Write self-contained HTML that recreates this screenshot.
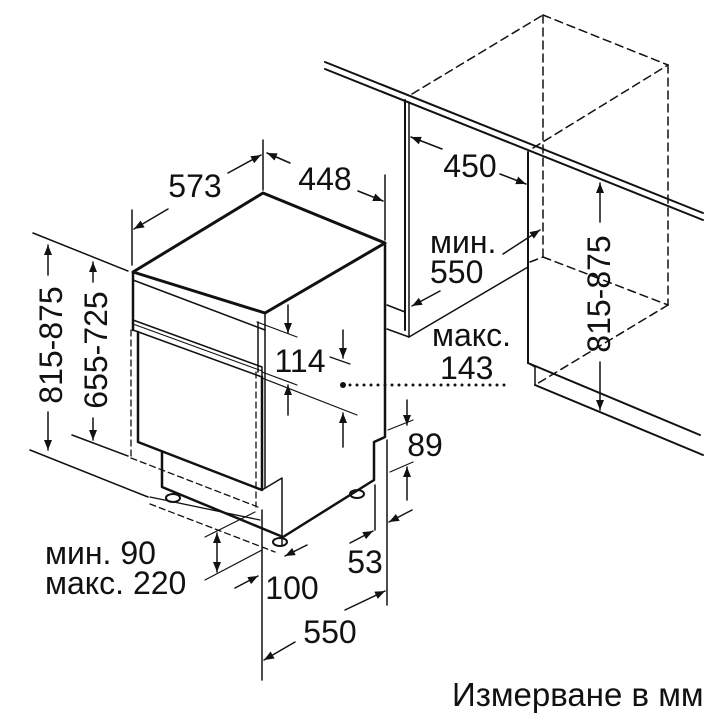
<!DOCTYPE html>
<html><head><meta charset="utf-8"><style>
html,body{margin:0;padding:0;background:#fff}
svg{display:block}
text{font-family:"Liberation Sans",sans-serif;fill:#111}
</style></head><body>
<svg width="720" height="720" viewBox="0 0 720 720" xmlns="http://www.w3.org/2000/svg">
<defs>
<marker id="a" viewBox="0 0 10 10" refX="10" refY="5" markerWidth="10" markerHeight="10" orient="auto-start-reverse" markerUnits="userSpaceOnUse">
<path d="M0,1 L10,5 L0,9 z" fill="#111"/></marker>
</defs>
<g stroke="#111" fill="none" stroke-linecap="round" stroke-linejoin="round">
<line x1="325" y1="62" x2="703" y2="213" stroke-width="2"/>
<line x1="325" y1="69" x2="703" y2="220" stroke-width="2"/>
<line x1="405" y1="100" x2="405" y2="330" stroke-width="2"/>
<line x1="409" y1="102" x2="409" y2="337" stroke-width="1.5"/>
<line x1="387" y1="305" x2="405" y2="312" stroke-width="1.5"/>
<line x1="387" y1="329" x2="409" y2="337" stroke-width="1.5"/>
<line x1="409" y1="337" x2="528" y2="267" stroke-width="1.5"/>
<line x1="528" y1="152" x2="528" y2="363" stroke-width="2"/>
<path d="M528,363 L535,367 L535,385" stroke-width="1.5"/>
<line x1="528" y1="363" x2="700" y2="435" stroke-width="2"/>
<line x1="535" y1="385" x2="703" y2="455" stroke-width="2"/>
<g stroke-dasharray="8,5" stroke-width="1.5">
<line x1="412" y1="94" x2="543" y2="15"/>
<line x1="543" y1="15" x2="668" y2="65"/>
<line x1="543" y1="15" x2="543" y2="257"/>
<line x1="668" y1="65" x2="668" y2="305"/>
<line x1="533" y1="148" x2="668" y2="65"/>
<line x1="530" y1="262" x2="543" y2="257"/>
<line x1="543" y1="257" x2="668" y2="305"/>
<line x1="668" y1="305" x2="535" y2="385"/>
</g>
<path d="M133,272 L263,193 L385,243 L265,313 Z" stroke-width="3"/>
<line x1="133" y1="272" x2="133" y2="330" stroke-width="2.5"/>
<line x1="133" y1="280" x2="265" y2="330" stroke-width="1.5"/>
<line x1="265" y1="313" x2="265" y2="488" stroke-width="1.5"/>
<line x1="258" y1="322" x2="258" y2="372" stroke-width="1.5"/>
<path d="M133,320 L262,367 L262,377 L133,330 Z" stroke-width="1.5"/>
<line x1="133" y1="324" x2="262" y2="371" stroke-width="1"/>
<path d="M138,332 L138,442 L262,490 L262,377" stroke-width="2.5"/>
<path d="M385,243 L385,437 L374,442 L374,480 L283,537 L162,487 L162,452" stroke-width="2.5"/>
<path d="M262,490 L282,478 L282,545" stroke-width="1.5"/>
<ellipse cx="173" cy="498" rx="7" ry="4" stroke-width="2"/>
<ellipse cx="280" cy="542" rx="7" ry="4" stroke-width="2"/>
<ellipse cx="357" cy="494" rx="7" ry="4" stroke-width="2"/>
<g stroke-dasharray="6,4" stroke-width="1.3">
<line x1="131" y1="330" x2="131" y2="458"/>
<line x1="131" y1="458" x2="258" y2="507"/>
<line x1="256" y1="372" x2="256" y2="507"/>
<line x1="150" y1="504" x2="275" y2="552"/>
<line x1="150" y1="497" x2="260" y2="520" stroke-dasharray="0"/>
</g>
<line x1="33" y1="233" x2="128" y2="271" stroke-width="1.5"/>
<line x1="30" y1="450" x2="148" y2="497" stroke-width="1.5"/>
<line x1="72" y1="435" x2="128" y2="456" stroke-width="1.5"/>
<line x1="48" y1="275" x2="48" y2="245" marker-end="url(#a)" stroke-width="1.5"/>
<line x1="48" y1="412" x2="48" y2="450" marker-end="url(#a)" stroke-width="1.5"/>
<line x1="93" y1="282" x2="93" y2="262" marker-end="url(#a)" stroke-width="1.5"/>
<line x1="93" y1="418" x2="93" y2="440" marker-end="url(#a)" stroke-width="1.5"/>
<line x1="132" y1="210" x2="132" y2="265" stroke-width="1.5"/>
<line x1="263" y1="140" x2="263" y2="190" stroke-width="1.5"/>
<line x1="385" y1="175" x2="385" y2="240" stroke-width="1.5"/>
<line x1="168" y1="209" x2="134" y2="229" marker-end="url(#a)" stroke-width="1.5"/>
<line x1="228" y1="173" x2="261" y2="155" marker-end="url(#a)" stroke-width="1.5"/>
<line x1="290" y1="163" x2="267" y2="153" marker-end="url(#a)" stroke-width="1.5"/>
<line x1="358" y1="191" x2="383" y2="201" marker-end="url(#a)" stroke-width="1.5"/>
<line x1="257" y1="322" x2="297" y2="337" stroke-width="1.2"/>
<line x1="262" y1="372" x2="297" y2="385" stroke-width="1.2"/>
<line x1="262" y1="378" x2="357" y2="415" stroke-width="1.2"/>
<line x1="330" y1="357" x2="350" y2="364" stroke-width="1.2"/>
<line x1="288" y1="305" x2="288" y2="333" marker-end="url(#a)" stroke-width="1.5"/>
<line x1="343" y1="330" x2="343" y2="358" marker-end="url(#a)" stroke-width="1.5"/>
<line x1="288" y1="415" x2="288" y2="385" marker-end="url(#a)" stroke-width="1.5"/>
<line x1="343" y1="447" x2="343" y2="413" marker-end="url(#a)" stroke-width="1.5"/>
<line x1="350" y1="385" x2="508" y2="385" stroke-width="3" stroke-dasharray="0,7"/>
<circle cx="343" cy="385" r="3" fill="#111" stroke="none"/>
<line x1="387" y1="440" x2="387" y2="605" stroke-width="1.5"/>
<line x1="375" y1="485" x2="375" y2="530" stroke-width="1.5"/>
<line x1="388" y1="430" x2="413" y2="420" stroke-width="1.2"/>
<line x1="390" y1="472" x2="413" y2="462" stroke-width="1.2"/>
<line x1="407" y1="400" x2="407" y2="425" marker-end="url(#a)" stroke-width="1.5"/>
<line x1="407" y1="500" x2="407" y2="467" marker-end="url(#a)" stroke-width="1.5"/>
<line x1="412" y1="510" x2="389" y2="522" marker-end="url(#a)" stroke-width="1.5"/>
<line x1="350" y1="543" x2="373" y2="531" marker-end="url(#a)" stroke-width="1.5"/>
<line x1="345" y1="610" x2="385" y2="591" marker-end="url(#a)" stroke-width="1.5"/>
<line x1="295" y1="642" x2="264" y2="660" marker-end="url(#a)" stroke-width="1.5"/>
<line x1="262" y1="510" x2="262" y2="680" stroke-width="1.5"/>
<line x1="307" y1="545" x2="285" y2="556" marker-end="url(#a)" stroke-width="1.5"/>
<line x1="235" y1="588" x2="258" y2="576" marker-end="url(#a)" stroke-width="1.5"/>
<line x1="205" y1="537" x2="255" y2="512" stroke-width="1.2"/>
<line x1="205" y1="580" x2="262" y2="550" stroke-width="1.2"/>
<line x1="217" y1="533" x2="217" y2="572" marker-start="url(#a)" marker-end="url(#a)" stroke-width="1.5"/>
<line x1="442" y1="149" x2="411" y2="137" marker-end="url(#a)" stroke-width="1.5"/>
<line x1="500" y1="174" x2="526" y2="184" marker-end="url(#a)" stroke-width="1.5"/>
<line x1="503" y1="254" x2="540" y2="230" marker-end="url(#a)" stroke-width="1.5"/>
<line x1="440" y1="291" x2="412" y2="306" marker-end="url(#a)" stroke-width="1.5"/>
<line x1="600" y1="222" x2="600" y2="183" marker-end="url(#a)" stroke-width="1.5"/>
<line x1="600" y1="362" x2="600" y2="410" marker-end="url(#a)" stroke-width="1.5"/>
</g>
<g font-size="32">
<text x="195" y="197" text-anchor="middle">573</text>
<text x="325" y="190" text-anchor="middle">448</text>
<text x="470" y="177" text-anchor="middle">450</text>
<text x="430" y="253">мин.</text>
<text x="430" y="283">550</text>
<text x="432" y="346">макс.</text>
<text x="440" y="379">143</text>
<text x="300" y="372" text-anchor="middle">114</text>
<text x="425" y="456" text-anchor="middle">89</text>
<text x="365" y="573" text-anchor="middle">53</text>
<text x="292" y="599" text-anchor="middle">100</text>
<text x="330" y="643" text-anchor="middle">550</text>
<text x="45" y="564">мин. 90</text>
<text x="45" y="594">макс. 220</text>
<text transform="translate(62,345) rotate(-90)" text-anchor="middle">815-875</text>
<text transform="translate(107,350) rotate(-90)" text-anchor="middle">655-725</text>
<text transform="translate(610,294) rotate(-90)" text-anchor="middle">815-875</text>
<text x="452" y="706" font-size="33">Измерване в мм</text>
</g>
</svg>
</body></html>
